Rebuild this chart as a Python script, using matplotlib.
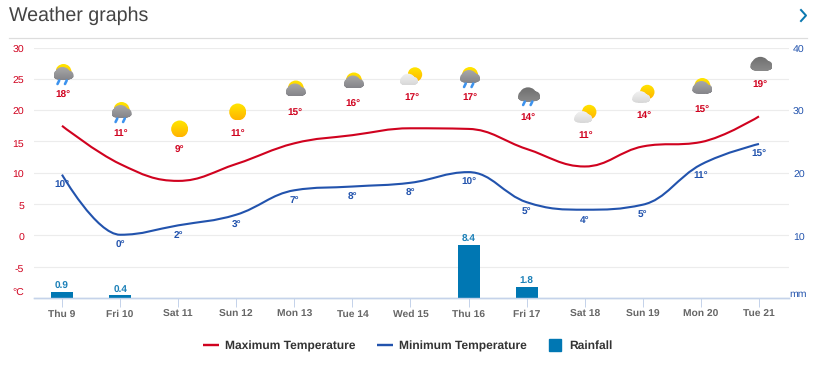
import matplotlib
matplotlib.use("Agg")
import matplotlib.pyplot as plt
import numpy as np
from matplotlib.colors import LinearSegmentedColormap
from matplotlib.lines import Line2D
from matplotlib.patches import PathPatch
from matplotlib.path import Path
from matplotlib.transforms import ScaledTranslation

plt.rcParams['font.family'] = ['Liberation Sans', 'DejaVu Sans']
plt.rcParams['axes.unicode_minus'] = False
plt.rcParams['text.hinting'] = 'no_hinting'

days = ["Thu 9", "Fri 10", "Sat 11", "Sun 12", "Mon 13", "Tue 14", "Wed 15",
        "Thu 16", "Fri 17", "Sat 18", "Sun 19", "Mon 20", "Tue 21"]
max_temp = [17.5, 11.4, 8.7, 11.4, 14.7, 16.0, 17.1, 17.0, 13.8, 11.0, 14.2, 14.9, 19.0]
min_temp = [9.7, 0.1, 1.6, 3.3, 7.2, 7.8, 8.4, 10.1, 5.3, 4.1, 4.9, 11.3, 14.6]
rainfall = [0.9, 0.4, 0, 0, 0, 0, 0, 8.4, 1.8, 0, 0, 0, 0]
max_labels = [18, 11, 9, 11, 15, 16, 17, 17, 14, 11, 14, 15, 19]
min_labels = [10, 0, 2, 3, 7, 8, 8, 10, 5, 4, 5, 11, 15]
icons = ["sun_rain", "sun_rain", "sun", "sun", "sun_cloud", "sun_cloud", "sun_light",
         "sun_rain", "dark_rain", "sun_light", "sun_light", "sun_cloud", "dark"]
# vertical places in pixels, they have no meaning in the data
icon_y = [74.5, 112.5, 129, 112, 91, 83, 76.5, 77.5, 94.5, 114, 94, 88.5, 64]
max_label_y = [95, 133.5, 150.5, 133.5, 113, 104.5, 97, 97.5, 117.5, 135.5, 115.5, 110, 85.5]

RED = "#d0021f"
BLUE = "#2253ad"
RAIN = "#0077b3"
W, H = 819, 370
LEFT, RIGHT, TOP, BOTTOM = 34, 789, 47.5, 298


def px(v):
    return v * 0.72


def spline_path(ys):
    # same control points as a highcharts spline, smoothing 1.5
    n = len(ys)
    left = [(i, ys[i]) for i in range(n)]
    right = [(i, ys[i]) for i in range(n)]
    for i in range(1, n - 1):
        y = ys[i]
        lx, ly = (1.5 * i + i - 1) / 2.5, (1.5 * y + ys[i - 1]) / 2.5
        rx, ry = (1.5 * i + i + 1) / 2.5, (1.5 * y + ys[i + 1]) / 2.5
        corr = (ry - ly) * (rx - i) / (rx - lx) + y - ry
        ly += corr
        ry += corr
        if (ly > ys[i - 1] and ly > y) or (ly < ys[i - 1] and ly < y):
            ly = max(ys[i - 1], y) if ly > y else min(ys[i - 1], y)
            ry = 2 * y - ly
        elif (ry > ys[i + 1] and ry > y) or (ry < ys[i + 1] and ry < y):
            ry = max(ys[i + 1], y) if ry > y else min(ys[i + 1], y)
            ly = 2 * y - ry
        left[i] = (lx, ly)
        right[i] = (rx, ry)
    verts = [(0, ys[0])]
    codes = [Path.MOVETO]
    for i in range(1, n):
        verts += [right[i - 1], left[i], (i, ys[i])]
        codes += [Path.CURVE4] * 3
    return Path(verts, codes)


def gradient(ov, path, top, bottom):
    # fills a path with a vertical gradient, like the little png icons
    box = path.get_extents()
    cmap = LinearSegmentedColormap.from_list("g", [top, bottom])
    im = ov.imshow(np.linspace(0, 1, 32).reshape(-1, 1), cmap=cmap, aspect="auto",
                   extent=(box.x0, box.x1, box.y1, box.y0), zorder=5, interpolation="bilinear")
    im.set_clip_path(PathPatch(path, transform=ov.transData))


def blobs(items):
    parts = []
    for cx, cy, rx, ry in items:
        circle = Path.unit_circle()
        parts.append(Path(circle.vertices * [rx, ry] + [cx, cy], circle.codes))
    return Path.make_compound_path(*parts)


def draw_sun(ov, x, y, r):
    gradient(ov, blobs([(x, y, r, r)]), "#ffe600", "#ffb400")


def draw_cloud(ov, x, y, top, bottom, scale=1.0):
    s = scale
    shape = blobs([(x, y + 3 * s, 10 * s, 3.5 * s), (x - 1 * s, y, 7.5 * s, 6.5 * s),
                   (x + 5 * s, y + 1.5 * s, 5 * s, 4.5 * s), (x - 6 * s, y + 1.5 * s, 4 * s, 4.5 * s)])
    gradient(ov, shape, top, bottom)


def draw_rain(ov, x, y):
    for dx in (-4.5, 3):
        ov.plot([x + dx + 1.2, x + dx - 0.5], [y, y + 3.5], color="#3d93ee", lw=px(2.6),
                solid_capstyle="round", zorder=6)


def draw_icon(ov, kind, x, y):
    if kind == "sun":
        draw_sun(ov, x, y, 8.5)
    elif kind in ("sun_rain", "sun_cloud"):
        draw_sun(ov, x, y - 2.5, 8)
        draw_cloud(ov, x, y - 1, "#a8a8a8", "#85858a")
        if kind == "sun_rain":
            draw_rain(ov, x - 1, y + 6)
    elif kind == "sun_light":
        draw_sun(ov, x + 3, y - 2, 7.2)
        draw_cloud(ov, x - 3, y + 3, "#f2f2f2", "#d8d8d8", 0.9)
    elif kind in ("dark", "dark_rain"):
        draw_cloud(ov, x + 1, y, "#6f6f6f", "#8a8a8a", 1.1)
        if kind == "dark_rain":
            draw_rain(ov, x, y + 7)


fig = plt.figure(figsize=(W / 100, H / 100), dpi=100)
fig.patch.set_facecolor("white")
ax = fig.add_axes([LEFT / W, 1 - BOTTOM / H, (RIGHT - LEFT) / W, (BOTTOM - TOP) / H])
ax2 = ax.twinx()

x = np.arange(len(days))
ax.set_xlim(-0.482, 12.517)
ax.set_ylim(-10, 30)
ax2.set_ylim(0, 40)

ax.set_yticks(np.arange(-5, 31, 5))
ax.grid(axis="y", color="#ececec", lw=px(1.2))
ax.set_axisbelow(True)
ax.set_xticks(x)
ax.set_xticklabels(days, fontsize=px(10.2), fontweight="bold", color="#666666")
ax.tick_params(axis="x", length=px(9), width=px(1), color="#c5d3ea", pad=px(3))
ax.tick_params(axis="y", length=0, labelsize=px(10.5), labelcolor=RED, pad=px(10))
ax2.set_yticks([10, 20, 30, 40])
ax2.tick_params(axis="y", length=0, labelsize=px(10.5), labelcolor=BLUE, pad=px(4))
# the y labels sit a little under their gridlines
nudge = ScaledTranslation(0, -1.5 / 100, fig.dpi_scale_trans)
for label in ax.get_yticklabels() + ax2.get_yticklabels():
    label.set_transform(label.get_transform() + nudge)
for a in (ax, ax2):
    for side in ("top", "left", "right"):
        a.spines[side].set_visible(False)
    a.spines["bottom"].set_color("#c5d3ea")
    a.spines["bottom"].set_linewidth(px(1.4))

ax2.bar(x, rainfall, width=22 / 58, color=RAIN, zorder=2)
for i, v in enumerate(rainfall):
    if v > 0:
        ax2.annotate(str(v), (i, v), xytext=(0, px(1)), textcoords="offset points", ha="center",
                     va="bottom", fontsize=px(10), fontweight="bold", color="#1b80b8")

ax.add_patch(PathPatch(spline_path(max_temp), fill=False, edgecolor=RED, lw=px(2.1), capstyle="butt"))
ax.add_patch(PathPatch(spline_path(min_temp), fill=False, edgecolor=BLUE, lw=px(2.1), capstyle="butt"))
for i, v in enumerate(min_temp):
    ax.annotate(f"{min_labels[i]}°", (i, v), xytext=(0, px(-10.5)), textcoords="offset points",
                ha="center", va="center", fontsize=px(10), fontweight="bold", color=BLUE)

# overlay in pixels for the page title, icons and unit labels
ov = fig.add_axes([0, 0, 1, 1], zorder=5)
ov.patch.set_alpha(0)
ov.axis("off")

ov.text(9, 15.5, "Weather graphs", fontsize=px(19.7), color="#444444", va="center", ha="left")
ov.plot([9, 807], [37.5, 37.5], color="#dddddd", lw=px(1.2))
ov.plot([801, 806, 801], [10, 15.5, 21], color="#0a78b0", lw=px(2))
ov.text(24, 293, "°C", fontsize=px(10.5), color=RED, ha="right", va="center")
ov.text(807, 294, "mm", fontsize=px(10.5), color=BLUE, ha="right", va="center")

for i, kind in enumerate(icons):
    cx = 62 + 58.08 * i + 1.5
    draw_icon(ov, kind, cx, icon_y[i])
    ov.text(cx - 0.5, max_label_y[i], f"{max_labels[i]}°", fontsize=px(10), fontweight="bold",
            color=RED, ha="center", va="center")

ov.set_xlim(0, W)
ov.set_ylim(H, 0)

handles = [Line2D([], [], color=RED, lw=px(2.4), solid_capstyle="butt"),
           Line2D([], [], color=BLUE, lw=px(2.4), solid_capstyle="butt"),
           Line2D([], [], color=RAIN, marker="s", ls="none", markersize=px(12))]
fig.legend(handles, ["Maximum Temperature", "Minimum Temperature", "Rainfall"], ncol=3,
           loc="center", bbox_to_anchor=(408 / W, 1 - 346 / H), frameon=False,
           prop={"size": px(12), "weight": "bold"}, labelcolor="#333333", handlelength=1.33,
           handletextpad=0.5, columnspacing=1.75, borderpad=0, borderaxespad=0)

fig.savefig("out.png", dpi=100)
